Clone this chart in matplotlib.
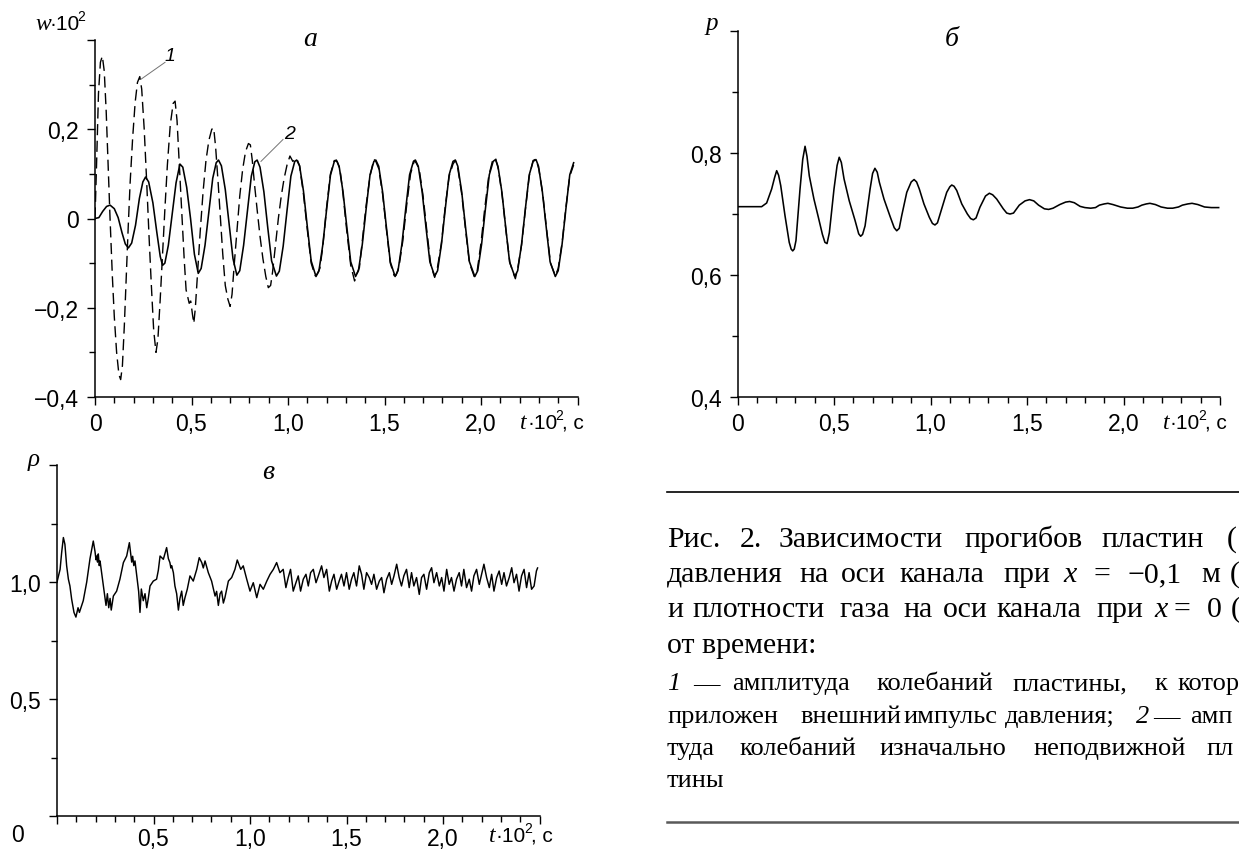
import matplotlib
matplotlib.use("Agg")
import matplotlib.pyplot as plt
from matplotlib.ticker import MultipleLocator, FixedLocator

# ---------------- data ----------------
# panel a: plate deflection w*10^2 vs t*10^2
w2_t = [0.0, 0.02, 0.04, 0.06, 0.078, 0.10, 0.12, 0.14, 0.157, 0.173, 0.19, 0.21, 0.23, 0.248, 0.262,
        0.278, 0.30, 0.32, 0.338, 0.35, 0.362, 0.38, 0.40, 0.42, 0.44, 0.455, 0.475, 0.495, 0.515,
        0.535, 0.55, 0.57, 0.59, 0.61, 0.628, 0.64, 0.655, 0.675, 0.695, 0.715, 0.735, 0.75, 0.77,
        0.79, 0.81, 0.828, 0.84, 0.855, 0.875, 0.895, 0.915, 0.94, 0.955, 0.975, 0.995, 1.015,
        1.035, 1.045, 1.06, 1.08, 1.10, 1.12, 1.145, 1.16, 1.18, 1.20, 1.22, 1.24, 1.25, 1.265,
        1.285, 1.305, 1.325, 1.35, 1.365, 1.385, 1.405, 1.425, 1.445, 1.455, 1.47, 1.49, 1.51,
        1.53, 1.555, 1.57, 1.59, 1.61, 1.63, 1.65, 1.66, 1.675, 1.695, 1.715, 1.735, 1.76, 1.775,
        1.795, 1.815, 1.835, 1.855, 1.867, 1.88, 1.90, 1.92, 1.94, 1.968, 1.983, 2.003, 2.023,
        2.043, 2.063, 2.075, 2.088, 2.108, 2.128, 2.148, 2.175, 2.19, 2.21, 2.23, 2.25, 2.27,
        2.285, 2.298, 2.318, 2.338, 2.358, 2.385, 2.40, 2.42, 2.44, 2.46, 2.48]
w2_v = [0.0, 0.002, 0.016, 0.027, 0.030, 0.022, 0.002, -0.032, -0.057, -0.066, -0.055, -0.015, 0.045,
        0.082, 0.093, 0.082, 0.035, -0.030, -0.085, -0.105, -0.100, -0.060, 0.010, 0.080, 0.122,
        0.115, 0.070, 0.000, -0.080, -0.123, -0.112, -0.060, 0.015, 0.090, 0.125, 0.131, 0.118,
        0.065, -0.012, -0.090, -0.127, -0.117, -0.060, 0.018, 0.095, 0.127, 0.131, 0.115, 0.060,
        -0.020, -0.095, -0.129, -0.118, -0.062, 0.018, 0.095, 0.128, 0.131, 0.118, 0.062, -0.018,
        -0.095, -0.130, -0.118, -0.060, 0.020, 0.097, 0.128, 0.131, 0.117, 0.060, -0.020, -0.097,
        -0.130, -0.117, -0.058, 0.022, 0.098, 0.128, 0.131, 0.117, 0.060, -0.020, -0.097, -0.130,
        -0.117, -0.058, 0.022, 0.098, 0.128, 0.131, 0.117, 0.060, -0.020, -0.097, -0.129, -0.117,
        -0.058, 0.022, 0.098, 0.128, 0.131, 0.117, 0.060, -0.020, -0.097, -0.130, -0.117, -0.058,
        0.022, 0.098, 0.128, 0.132, 0.117, 0.060, -0.020, -0.097, -0.130, -0.117, -0.058, 0.022,
        0.098, 0.128, 0.132, 0.117, 0.060, -0.020, -0.097, -0.130, -0.117, -0.058, 0.022, 0.098,
        0.125]

w1_t = [0.0, 0.008, 0.018, 0.028, 0.038, 0.048, 0.058, 0.068, 0.078, 0.09, 0.10, 0.112, 0.124, 0.133,
        0.142, 0.152, 0.162, 0.172, 0.182, 0.195, 0.208, 0.22, 0.232, 0.242, 0.255, 0.268, 0.28,
        0.292, 0.304, 0.316, 0.326, 0.338, 0.35, 0.362, 0.375, 0.39, 0.405, 0.415, 0.425, 0.437,
        0.45, 0.462, 0.472, 0.48, 0.488, 0.496, 0.505, 0.512, 0.52, 0.532, 0.545, 0.56, 0.575,
        0.59, 0.605, 0.615, 0.625, 0.638, 0.65, 0.662, 0.675, 0.688, 0.70, 0.71, 0.722, 0.735,
        0.75, 0.765, 0.78, 0.795, 0.805, 0.815, 0.828, 0.84, 0.855, 0.87, 0.885, 0.898, 0.91,
        0.92, 0.935, 0.95, 0.965, 0.98, 0.995, 1.01, 1.025, 1.045, 1.06, 1.08, 1.10, 1.12, 1.14,
        1.15, 1.165, 1.18, 1.20, 1.22, 1.24, 1.255, 1.27, 1.285, 1.305, 1.325, 1.345, 1.355, 1.37,
        1.385, 1.405, 1.425, 1.445, 1.455, 1.47, 1.49, 1.51, 1.53, 1.55, 1.56, 1.575, 1.595,
        1.615, 1.635, 1.655, 1.665, 1.68, 1.70, 1.72, 1.74, 1.76, 1.775, 1.795, 1.815, 1.835,
        1.855, 1.867, 1.88, 1.90, 1.92, 1.94, 1.965, 1.98, 2.00, 2.02, 2.04, 2.06, 2.075, 2.09,
        2.11, 2.13, 2.15, 2.178, 2.19, 2.21, 2.23, 2.25, 2.27, 2.285, 2.30, 2.32, 2.34, 2.36,
        2.385, 2.40, 2.42, 2.44, 2.46, 2.48]
w1_v = [0.0, 0.12, 0.28, 0.35, 0.364, 0.33, 0.24, 0.12, 0.0, -0.13, -0.22, -0.30, -0.35, -0.361,
        -0.33, -0.24, -0.13, -0.02, 0.08, 0.18, 0.26, 0.305, 0.318, 0.29, 0.20, 0.08, -0.04,
        -0.15, -0.25, -0.30, -0.27, -0.18, -0.08, 0.02, 0.12, 0.21, 0.258, 0.263, 0.22, 0.12,
        0.01, -0.09, -0.16, -0.175, -0.19, -0.185, -0.215, -0.235, -0.20, -0.12, -0.03, 0.06,
        0.13, 0.175, 0.20, 0.203, 0.16, 0.08, 0.0, -0.08, -0.15, -0.18, -0.197, -0.17, -0.10,
        -0.03, 0.05, 0.11, 0.15, 0.168, 0.165, 0.13, 0.07, 0.02, -0.04, -0.09, -0.13, -0.155,
        -0.15, -0.12, -0.06, 0.0, 0.05, 0.09, 0.12, 0.14, 0.128, 0.135, 0.118, 0.055, -0.025,
        -0.100, -0.128, -0.125, -0.112, -0.065, 0.025, 0.100, 0.130, 0.128, 0.108, 0.055, -0.030,
        -0.105, -0.140, -0.125, -0.110, -0.050, 0.030, 0.095, 0.133, 0.128, 0.112, 0.055, -0.025,
        -0.100, -0.128, -0.127, -0.108, -0.050, 0.030, 0.100, 0.130, 0.124, 0.110, 0.050, -0.030,
        -0.105, -0.132, -0.108, -0.055, 0.028, 0.095, 0.122, 0.130, 0.112, 0.055, -0.025, -0.100,
        -0.130, -0.118, -0.055, 0.025, 0.095, 0.130, 0.136, 0.110, 0.050, -0.030, -0.100, -0.135,
        -0.112, -0.060, 0.020, 0.095, 0.130, 0.133, 0.110, 0.055, -0.025, -0.100, -0.128, -0.112,
        -0.055, 0.025, 0.095, 0.12]

# panel б: pressure p on channel axis at x = -0.1 m
p_t = [0.000, 0.125, 0.151, 0.177, 0.192, 0.203, 0.213, 0.224, 0.246, 0.268, 0.278, 0.286, 0.294,
       0.303, 0.324, 0.338, 0.350, 0.360, 0.372, 0.396, 0.419, 0.440, 0.453, 0.464, 0.476, 0.500,
       0.516, 0.527, 0.538, 0.552, 0.579, 0.609, 0.628, 0.638, 0.648, 0.661, 0.687, 0.700, 0.712,
       0.724, 0.735, 0.759, 0.790, 0.812, 0.825, 0.838, 0.851, 0.877, 0.900, 0.915, 0.928, 0.942,
       0.966, 0.994, 1.010, 1.023, 1.036, 1.058, 1.084, 1.100, 1.110, 1.122, 1.136, 1.162, 1.191,
       1.208, 1.222, 1.236, 1.256, 1.285, 1.305, 1.322, 1.343, 1.377, 1.395, 1.412, 1.43, 1.46,
       1.49, 1.513, 1.535, 1.56, 1.59, 1.612, 1.635, 1.67, 1.70, 1.721, 1.745, 1.775, 1.80,
       1.830, 1.855, 1.875, 1.900, 1.919, 1.945, 1.985, 2.02, 2.048, 2.075, 2.095, 2.118,
       2.137, 2.165, 2.195, 2.228, 2.255, 2.285, 2.305, 2.333, 2.355, 2.385, 2.42, 2.455, 2.493]
p_v = [0.7125, 0.7125, 0.7185, 0.7415, 0.760, 0.7715, 0.764, 0.747, 0.698, 0.654, 0.643, 0.640,
       0.643, 0.657, 0.7415, 0.790, 0.8115, 0.795, 0.763, 0.725, 0.695, 0.667, 0.654, 0.652,
       0.670, 0.7415, 0.780, 0.7935, 0.785, 0.758, 0.722, 0.690, 0.668, 0.664, 0.667, 0.681,
       0.7415, 0.767, 0.7754, 0.769, 0.7525, 0.725, 0.697, 0.678, 0.673, 0.677, 0.698, 0.736,
       0.753, 0.757, 0.753, 0.7415, 0.717, 0.695, 0.685, 0.6825, 0.686, 0.709, 0.736, 0.745,
       0.748, 0.746, 0.739, 0.717, 0.7005, 0.693, 0.691, 0.694, 0.7115, 0.730, 0.7345, 0.732,
       0.725, 0.709, 0.702, 0.7005, 0.702, 0.715, 0.722, 0.724, 0.722, 0.715, 0.709, 0.708,
       0.710, 0.716, 0.720, 0.721, 0.719, 0.713, 0.711, 0.710, 0.711, 0.715, 0.717, 0.718,
       0.716, 0.712, 0.710, 0.710, 0.712, 0.715, 0.717, 0.718, 0.716, 0.712, 0.710, 0.710,
       0.712, 0.715, 0.717, 0.718, 0.716, 0.712, 0.711, 0.711]

# panel в: gas density rho on channel axis at x = 0
r_t = [0.000, 0.016, 0.024, 0.033, 0.041, 0.050, 0.059, 0.067, 0.076, 0.088, 0.098, 0.109, 0.116,
       0.128, 0.136, 0.154, 0.171, 0.188, 0.197, 0.202, 0.206, 0.210, 0.214, 0.219, 0.223, 0.231,
       0.240, 0.249, 0.254, 0.261, 0.268, 0.275, 0.281, 0.292, 0.309, 0.326, 0.344, 0.361, 0.375,
       0.382, 0.387, 0.392, 0.398, 0.404, 0.413, 0.423, 0.430, 0.437, 0.447, 0.456, 0.465, 0.473,
       0.482, 0.499, 0.516, 0.525, 0.534, 0.551, 0.568, 0.577, 0.585, 0.590, 0.594, 0.603, 0.611,
       0.620, 0.629, 0.637, 0.646, 0.654, 0.663, 0.675, 0.689, 0.706, 0.724, 0.737, 0.750, 0.758,
       0.767, 0.784, 0.801, 0.819, 0.827, 0.836, 0.845, 0.853, 0.862, 0.870, 0.888, 0.905, 0.922,
       0.934, 0.952, 0.965, 0.983, 1.000, 1.017, 1.035, 1.052, 1.069, 1.087, 1.104, 1.121, 1.138,
       1.155, 1.172, 1.186, 1.198, 1.210, 1.224, 1.238, 1.250, 1.262, 1.276, 1.290, 1.302, 1.314,
       1.328, 1.342, 1.354, 1.371, 1.383, 1.397, 1.411, 1.423, 1.435, 1.449, 1.462, 1.474, 1.487,
       1.500, 1.514, 1.526, 1.538, 1.552, 1.566, 1.578, 1.590, 1.604, 1.618, 1.630, 1.642, 1.656,
       1.670, 1.682, 1.694, 1.708, 1.722, 1.734, 1.746, 1.760, 1.773, 1.785, 1.797, 1.811, 1.825,
       1.837, 1.849, 1.863, 1.877, 1.889, 1.901, 1.915, 1.929, 1.941, 1.953, 1.967, 1.981, 1.993,
       2.005, 2.019, 2.032, 2.044, 2.057, 2.070, 2.084, 2.096, 2.108, 2.122, 2.136, 2.148, 2.160,
       2.174, 2.188, 2.200, 2.212, 2.226, 2.240, 2.252, 2.264, 2.278, 2.291, 2.304, 2.316, 2.329,
       2.343, 2.356, 2.368, 2.381, 2.394, 2.407, 2.420, 2.433, 2.446, 2.459, 2.472, 2.484, 2.490]
r_v = [1.000, 1.054, 1.125, 1.190, 1.161, 1.069, 1.012, 0.983, 0.926, 0.870, 0.850, 0.890, 0.870,
       0.900, 0.920, 1.000, 1.100, 1.175, 1.130, 1.095, 1.111, 1.085, 1.120, 1.070, 1.090, 1.040,
       0.983, 0.930, 0.900, 0.950, 0.890, 0.930, 0.880, 0.940, 0.961, 1.012, 1.083, 1.111, 1.168,
       1.120, 1.085, 1.110, 1.070, 1.090, 1.030, 0.960, 0.870, 0.970, 0.920, 0.950, 0.890, 0.930,
       0.983, 1.004, 1.012, 1.050, 1.111, 1.097, 1.147, 1.100, 1.083, 1.060, 1.070, 1.040, 0.983,
       0.950, 0.880, 0.930, 0.961, 0.900, 0.933, 0.969, 1.026, 1.004, 1.054, 1.104, 1.083, 1.060,
       1.090, 1.040, 1.004, 0.940, 0.960, 0.900, 0.950, 0.961, 0.910, 0.933, 1.004, 1.019, 1.054,
       1.094, 1.054, 1.069, 1.012, 0.961, 0.997, 0.933, 0.990, 0.969, 1.004, 1.033, 1.054, 1.083,
       1.040, 1.054, 0.976, 1.019, 1.054, 0.961, 0.997, 1.026, 0.961, 1.012, 1.033, 0.983, 1.040,
       1.054, 0.997, 1.026, 1.069, 1.019, 1.054, 0.961, 1.004, 1.033, 0.969, 1.004, 1.033, 0.983,
       1.040, 0.969, 1.012, 1.040, 0.983, 1.069, 1.033, 0.969, 1.040, 1.019, 0.990, 1.033, 0.969,
       1.004, 1.019, 0.954, 1.012, 1.040, 0.990, 1.026, 1.076, 1.019, 0.983, 1.026, 1.054, 0.976,
       1.040, 0.983, 1.019, 0.947, 1.019, 1.033, 0.969, 1.040, 1.061, 0.997, 1.040, 0.983, 1.019,
       0.961, 1.054, 0.990, 1.019, 0.961, 1.012, 1.040, 0.983, 1.054, 0.976, 1.012, 0.961, 1.026,
       1.054, 0.990, 1.033, 1.076, 1.019, 0.976, 1.033, 0.961, 1.019, 1.047, 0.990, 1.040, 0.983,
       1.019, 1.061, 0.997, 1.033, 0.961, 1.026, 1.054, 0.976, 1.040, 0.969, 0.983, 1.047, 1.060]

x_major = [0.0, 0.5, 1.0, 1.5, 2.0, 2.5]
x_labels = ["0", "0,5", "1,0", "1,5", "2,0", ""]

# ---------------- figure ----------------
W, H = 1239, 853
fig = plt.figure(figsize=(W / 100, H / 100), dpi=100)
SANS = "Liberation Sans"
SERIF = "Liberation Serif"
TICK_FS = 16.5


def px_axes(l, r, t, b):
    return fig.add_axes([l / W, 1 - b / H, (r - l) / W, (b - t) / H])


def ftext(x, y, s, **kw):
    kw.setdefault("family", SANS)
    kw.setdefault("color", "black")
    return fig.text(x / W, 1 - y / H, s, **kw)


def style(ax, xlab, ymaj, ylab, ymin, xpad=4.5):
    for side in ("top", "right"):
        ax.spines[side].set_visible(False)
    for side in ("left", "bottom"):
        ax.spines[side].set_linewidth(1.1)
    ax.set_xlim(0, 2.5)
    ax.xaxis.set_major_locator(FixedLocator(x_major))
    ax.set_xticklabels(xlab)
    ax.xaxis.set_minor_locator(MultipleLocator(0.1))
    ax.yaxis.set_major_locator(FixedLocator(ymaj))
    ax.set_yticklabels(ylab)
    ax.yaxis.set_minor_locator(FixedLocator(ymin))
    ax.tick_params(which="major", direction="out", length=6, width=1.0, labelsize=TICK_FS)
    ax.tick_params(axis="y", which="major", pad=5.5)
    ax.tick_params(axis="x", which="major", pad=xpad)
    ax.tick_params(which="minor", direction="out", length=4, width=1.0)
    for lab in ax.get_xticklabels() + ax.get_yticklabels():
        lab.set_family(SANS)


# ---- panel a ----
axa = px_axes(95, 577.5, 41, 398)
axa.plot(w1_t, w1_v, color="black", lw=1.0, dashes=(8, 4))
axa.plot(w2_t, w2_v, color="black", lw=1.15)
axa.set_ylim(-0.4, 0.4)
style(axa, x_labels, [-0.4, -0.2, 0.0, 0.2, 0.4], ["\u22120,4", "\u22120,2", "0", "0,2", ""],
      [-0.3, -0.1, 0.1, 0.3])
axa.plot([0.363, 0.238], [0.35, 0.312], color="0.45", lw=0.7)
axa.plot([0.974, 0.86], [0.177, 0.128], color="0.45", lw=0.7)
axa.text(0.389, 0.365, "1", fontsize=14, style="italic", family=SANS, ha="center", va="center")
axa.text(1.01, 0.19, "2", fontsize=14, style="italic", family=SANS, ha="center", va="center")

# ---- panel б ----
axb = px_axes(737.5, 1220, 32.3, 398.3)
axb.plot(p_t, p_v, color="black", lw=1.15)
axb.set_ylim(0.4, 1.0)
style(axb, x_labels, [0.4, 0.6, 0.8, 1.0], ["0,4", "0,6", "0,8", ""], [0.5, 0.7, 0.9])

# ---- panel в ----
axc = px_axes(57, 539.5, 466, 817)
axc.plot(r_t, r_v, color="black", lw=1.05)
axc.set_ylim(0.0, 1.5)
style(axc, [""] + x_labels[1:], [0.0, 0.5, 1.0, 1.5], ["", "0,5", "1,0", ""], [0.25, 0.75, 1.25],
      xpad=2.0)

# ---- axis titles and panel letters ----
ftext(35, 30, "w", family=SERIF, style="italic", fontsize=17, va="baseline")
ftext(49, 30, "\u00b710", fontsize=15, va="baseline")
ftext(77, 21, "2", fontsize=10, va="baseline")
ftext(705, 30, "p", family=SERIF, style="italic", fontsize=18, va="baseline")
ftext(28, 466, "\u03c1", family=SERIF, style="italic", fontsize=18, va="baseline")

ftext(310, 46, "а", family=SERIF, style="italic", fontsize=20, ha="center", va="baseline")
ftext(952, 46, "б", family=SERIF, style="italic", fontsize=20, ha="center", va="baseline")
ftext(268, 479, "в", family=SERIF, style="italic", fontsize=20, ha="center", va="baseline")

for (x0, y0) in ((520, 429), (1163, 429), (489, 842)):
    ftext(x0, y0, "t", family=SERIF, style="italic", fontsize=17, va="baseline")
    ftext(x0 + 7, y0, "\u00b710", fontsize=15, va="baseline")
    ftext(x0 + 35, y0 - 9, "2", fontsize=10, va="baseline")
    ftext(x0 + 42, y0, ", с", fontsize=15, va="baseline")
ftext(18, 842, "0", fontsize=TICK_FS, ha="center", va="baseline")

# ---------------- caption ----------------
fig.add_artist(plt.Line2D([667 / W, 1.0], [1 - 493.3 / H] * 2, color="black", lw=1.2))
fig.add_artist(plt.Line2D([667 / W, 1.0], [1 - 823.3 / H] * 2, color="0.35", lw=1.8))

BIG, SMALL = 21.5, 19
cap_lines = [
    (547, BIG, [("Рис.", 667.4, 0), ("2.", 739.4, 0), ("Зависимости", 778.9, 0), ("прогибов", 964.7, 0),
                ("пластин", 1101.3, 0), ("(", 1226.8, 0)]),
    (582, BIG, [("давления", 667, 0), ("на", 799.6, 0), ("оси", 841, 0), ("канала", 899.3, 0),
                ("при", 1003.4, 0), ("x", 1063.6, 1), ("=", 1093.9, 0), ("\u22120,1", 1127.1, 0),
                ("м", 1201, 0), ("(", 1230, 0)]),
    (617, BIG, [("и", 667, 0), ("плотности", 692.5, 0), ("газа", 839.1, 0), ("на", 903, 0),
                ("оси", 942.5, 0), ("канала", 996, 0), ("при", 1096.5, 0), ("x", 1154.8, 1),
                ("=", 1173.3, 0), ("0", 1206.5, 0), ("(", 1230.5, 0)]),
    (653, BIG, [("от времени:", 667, 0)]),
    (690, SMALL, [("1", 667, 1), ("—", 693, 0), ("амплитуда", 732, 0), ("колебаний", 876, 0),
                  ("пластины,", 1012.6, 0), ("к", 1154.8, 0), ("котор", 1177, 0)]),
    (723, SMALL, [("приложен", 667, 0), ("внешний", 800, 0), ("импульс", 903, 0),
                  ("давления;", 1005, 0), ("2", 1136, 1), ("—", 1153, 0), ("амп", 1190, 0)]),
    (755, SMALL, [("туда", 667, 0), ("колебаний", 739.4, 0), ("изначально", 879.7, 0),
                  ("неподвижной", 1033, 0), ("пл", 1206.5, 0)]),
    (787, SMALL, [("тины", 667, 0)]),
]
for y0, fs, words in cap_lines:
    for word, x0, it in words:
        ftext(x0, y0, word, family=SERIF, style="italic" if it else "normal",
              fontsize=fs, va="baseline", ha="left")

fig.savefig("out.png", dpi=100)
